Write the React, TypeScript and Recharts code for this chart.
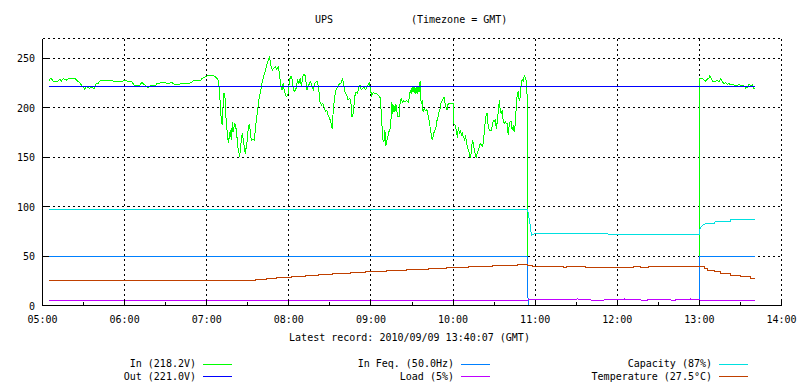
import React from 'react';
import { LineChart, Line, XAxis, YAxis, CartesianGrid } from 'recharts';

const FONT = '"DejaVu Sans Mono", "Liberation Mono", monospace';

// x values are minutes after 05:00 GMT
const HOUR_TICKS = [0, 60, 120, 180, 240, 300, 360, 420, 480, 540];
const HALF_HOUR_TICKS = [0, 30, 60, 90, 120, 150, 180, 210, 240, 270, 300, 330, 360, 390, 420, 450, 480, 510, 540];
const Y_TICKS = [0, 50, 100, 150, 200, 250];

const TITLE = 'UPS';
const SUBTITLE = '(Timezone = GMT)';
const X_LABEL = 'Latest record: 2010/09/09 13:40:07 (GMT)';

const IN_VOLTAGE: Array<[number, number | null]> = [
  [4.9, 227], [5.5, 229], [6.6, 229.3], [7.8, 227], [11.4, 227], [12.7, 229], [13.9, 227], [15.1, 229.5],
  [17.5, 228], [20, 230], [22.4, 229], [23.6, 230], [24.8, 228], [27.3, 225], [28.5, 222.9], [30.9, 218.8],
  [32.2, 221.6], [34.1, 219.6], [35.8, 221], [37.5, 219], [39, 224], [40.7, 224.6], [41.9, 227], [45.6, 227.6],
  [49.2, 227.6], [52.9, 226.6], [55.3, 227], [57.8, 226], [59.5, 228], [61.9, 227], [65.1, 227], [66.8, 222.9],
  [71.2, 222.6], [72.4, 225.6], [74.8, 223], [77.3, 220], [78.5, 222], [82.2, 222], [83.4, 224], [87, 225.6],
  [89.5, 225.6], [91.9, 224], [94.4, 225.6], [96.8, 223], [100.5, 224], [104.1, 225], [106.9, 224], [110.5, 227.4],
  [115.4, 227.4], [116.6, 229.7], [119, 231.4], [121.5, 233], [123.9, 232.8], [126.3, 231.4], [128, 228.7], [128.7, 226.4],
  [129.5, 214.5], [130, 197.6], [130.7, 187.5], [131.4, 182.4], [131.9, 201], [132.6, 214.5], [133.4, 209.5], [133.8, 197.6],
  [134.3, 184], [135.1, 174], [135.8, 164.5], [136.5, 170.6], [137.2, 177.4], [138, 167.2], [138.7, 185.8], [139.2, 175.7],
  [139.9, 180], [140.6, 184], [141.4, 179], [142.1, 170.6], [142.6, 160.5], [143.3, 157], [144, 150.3], [144.8, 160.5],
  [145.5, 170.6], [146.2, 174], [146.7, 167.2], [147.4, 160.5], [148.2, 153.7], [148.9, 160.5], [149.6, 167.2], [150.4, 180.7],
  [151.1, 182.4], [151.8, 177.4], [152.5, 167.2], [153.5, 168], [154.7, 167.2], [155.5, 177.4], [156.2, 187.5], [157.2, 197.6],
  [158.1, 207.8], [159.1, 214.5], [160.3, 224.7], [161.5, 231.4], [162.7, 236.5], [163.5, 241.6], [164.4, 245.6], [165.4, 250],
  [165.9, 252.4], [166.4, 246.6], [167.1, 241.6], [167.9, 238], [168.8, 239.9], [170, 241.6], [171.3, 238.9], [172.2, 241.6],
  [173.2, 234.8], [173.7, 226.4], [174.4, 221.3], [175.1, 217.9], [175.9, 224.7], [176.6, 217.9], [177.6, 212.8], [178.5, 211.1],
  [179.5, 214.5], [180.5, 228], [181.5, 232.1], [182.4, 228.7], [183.4, 217.9], [184.4, 216.2], [185.3, 219.6], [186.3, 228],
  [187.3, 224.7], [188.3, 229.7], [189.2, 221.3], [190.2, 231.4], [191.2, 234.1], [192.1, 232.1], [193.1, 217.9], [194.1, 221.3],
  [195.1, 224.7], [196, 226.4], [197, 221.3], [198, 217.9], [198.9, 224.7], [199.9, 226.4], [200.9, 226.4], [201.9, 217.9],
  [202.8, 206], [203.8, 202.7], [204.8, 204.4], [205.7, 201], [206.7, 196], [207.7, 197.6], [208.7, 192.6], [209.6, 190.2],
  [210.6, 185.8], [211.6, 179], [212.5, 197.6], [213.5, 211.1], [214.5, 217.9], [215.5, 221.3], [216.4, 223], [217.4, 224.7],
  [218.4, 225.3], [219.3, 229.7], [220.3, 221.3], [221.3, 214.5], [222.3, 212.8], [223.2, 207.8], [224.2, 209.5], [225.2, 207.8],
  [226.1, 190.9], [227.1, 194.3], [228.1, 211.1], [229.1, 216.2], [230, 214.5], [231, 219.6], [232, 223], [232.9, 217.9],
  [233.9, 219.6], [234.9, 221.3], [235.9, 218.6], [236.8, 219.6], [237.8, 223], [238.8, 224.7], [239.7, 217.9], [240.5, 212.3],
  [241.7, 215.7], [242.9, 214], [244.1, 214.7], [245.3, 212.3], [246.6, 210.7], [247.3, 200.7], [248, 184], [248.7, 167.3],
  [249.5, 165.7], [250.2, 177.3], [250.9, 161.3], [251.7, 167.3], [252.4, 170.7], [253.1, 175.7], [253.8, 177.3], [254.6, 187.3],
  [255.3, 205.7], [256, 194], [256.8, 202.3], [257.5, 195.7], [258.2, 204], [258.9, 197.3], [259.7, 190.7], [260.6, 190.7],
  [261.4, 207.3], [262.1, 209], [263.1, 205.7], [264, 207.3], [265, 205.7], [266, 207.3], [267.2, 205.7], [267.9, 209],
  [268.7, 217.3], [269.4, 214], [270.1, 220.7], [270.8, 215.7], [271.6, 221.3], [272.3, 214], [273, 220.7], [273.8, 214],
  [274.5, 222.3], [275.2, 215.7], [275.9, 226.7], [276.7, 204], [277.4, 207.3], [278.1, 195.7], [278.9, 199], [279.6, 197.3],
  [280.3, 198], [281, 197.3], [281.8, 192.3], [282.5, 187.3], [283.2, 180.7], [284, 174], [284.7, 167.3], [285.4, 170.7],
  [286.2, 175.7], [286.9, 177.3], [287.6, 180.7], [288.3, 187.3], [289.1, 190.7], [289.8, 195.7], [290.5, 199], [291.3, 205.7],
  [292, 207.3], [292.7, 209], [293.4, 210.7], [294.2, 204], [294.9, 200.7], [295.6, 197.3], [296.4, 204], [300, 204],
  [300.5, 184], [301.5, 182.3], [302.4, 177.3], [303.2, 169], [303.9, 180.7], [304.6, 174], [305.3, 177.3], [306.1, 172.3],
  [306.8, 174], [307.5, 170.7], [308.3, 168], [309, 170.7], [309.7, 167.3], [310.4, 160.7], [311.2, 157.3], [311.9, 154],
  [312.6, 149], [313.4, 155.7], [314.1, 167.3], [314.8, 164], [315.5, 157.3], [316.3, 152.3], [317, 150], [317.7, 154],
  [318.5, 157.3], [319.2, 160.7], [319.9, 164], [320.6, 162.3], [321.4, 161.3], [322.1, 164], [322.8, 175.7], [323.6, 187.3],
  [324.3, 194], [325, 194], [325.7, 180.7], [326.5, 177.3], [327.2, 176.7], [327.9, 177.3], [328.7, 182.3], [329.4, 187.3],
  [330.1, 185.7], [330.8, 187.3], [331.6, 179], [332.3, 185.7], [333, 195.7], [333.8, 207.3], [334.5, 197.3], [335.2, 194],
  [335.9, 197.3], [336.7, 186.3], [337.4, 184.3], [338.1, 186.3], [338.9, 184.3], [339.6, 184], [340.3, 172.3], [341, 182.3],
  [341.8, 186.3], [342.5, 185.7], [343.2, 177.3], [344, 180.7], [344.7, 175.7], [345.4, 182.3], [346.1, 199], [346.9, 214],
  [347.6, 215.7], [348.3, 207.3], [349.1, 210.7], [349.8, 224], [350.5, 229], [351.3, 227.3], [352, 232.3], [352.7, 230.7],
  [353.4, 227.3], [354, 227.3], [354.3, 114], [354.5, 25], [355, null], [479.8, null],
  [480, 25], [480.2, 114], [480.4, 229.7], [481.4, 229], [482.4, 229.7], [483.4, 228], [484.6, 227], [485.8, 229],
  [487, 229.7], [487.7, 232.4], [488.7, 229], [489.5, 227], [490.7, 226.3], [491.9, 227], [493.1, 227.7], [494.3, 226.3],
  [495.6, 229], [496.8, 226.3], [498, 224.6], [499.2, 225.6], [500.4, 223.6], [501.6, 224.3], [502.9, 223], [505.3, 223],
  [507.7, 222.3], [509, 223.6], [510.2, 222.3], [512.6, 222.3], [513.8, 219.6], [515.1, 221], [516.3, 223.6], [517.5, 222.3],
  [518.7, 223], [519.9, 219], [520.9, 219],
];

const OUT_VOLTAGE: Array<[number, number | null]> = [[4.9, 221], [520.9, 221]];

const IN_FREQ: Array<[number, number | null]> = [
  [4.9, 50], [354.6, 50], [354.8, 0], [355, null], [479.8, null], [480, 0], [480.2, 50], [520.9, 50],
];

const LOAD: Array<[number, number | null]> = [
  [4.9, 5], [354.7, 5], [355, 6], [390, 6], [391, 6.7], [392, 6], [400, 6], [401, 5.3], [410, 5.3], [411, 6],
  [424.5, 6], [425, 6.7], [426, 6], [437, 6], [437.5, 5.3], [442, 5.3], [442.5, 6], [459, 6], [459.5, 5.3],
  [462.5, 5.3], [463, 6], [473, 6], [473.5, 6.7], [474.5, 6], [480, 6], [480.2, 5], [520.9, 5],
];

const CAPACITY: Array<[number, number | null]> = [
  [4.9, 97], [354.6, 97], [354.9, 93], [355.8, 86], [356.6, 79], [357.3, 70.5], [358.2, 72], [360.2, 72.6],
  [364.6, 73], [410, 73], [415, 72], [480, 72], [480.2, 76], [481, 79.3], [482.2, 81], [484.6, 82.8],
  [490.7, 83], [491.5, 85], [502.5, 85], [503, 87], [520.9, 87],
];

const TEMPERATURE: Array<[number, number | null]> = [
  [4.9, 25], [156, 26], [163.4, 27], [171.2, 28], [181.7, 29], [191.9, 30], [201.7, 31], [212.2, 32],
  [224.9, 33], [235.8, 34], [251.7, 35], [266.3, 36], [282.2, 37], [295.1, 38], [311.4, 39], [328.5, 40],
  [346.8, 41], [354.5, 40], [358, 39.5], [361, 39], [381, 38.5], [383, 39], [396.8, 38.3], [432.2, 39],
  [437, 38.7], [443, 39], [481, 39], [483.4, 37.2], [485.9, 35.5], [490.7, 33.9], [495.6, 32.2],
  [502.9, 30.2], [510.2, 28.9], [517.5, 27.6], [520.9, 27.5],
];

const COLORS = {
  in: '#00ff00',
  out: '#0000ff',
  feq: '#0080ff',
  load: '#c000ff',
  capacity: '#00e0e0',
  temp: '#c04000',
};

const SERIES = [
  { key: 'in', label: 'In (218.2V)', data: IN_VOLTAGE, color: COLORS.in, step: false },
  { key: 'out', label: 'Out (221.0V)', data: OUT_VOLTAGE, color: COLORS.out, step: false },
  { key: 'feq', label: 'In Feq. (50.0Hz)', data: IN_FREQ, color: COLORS.feq, step: false },
  { key: 'load', label: 'Load (5%)', data: LOAD, color: COLORS.load, step: false },
  { key: 'capacity', label: 'Capacity (87%)', data: CAPACITY, color: COLORS.capacity, step: false },
  { key: 'temp', label: 'Temperature (27.5°C)', data: TEMPERATURE, color: COLORS.temp, step: true },
];

// legend layout: [column text right edge, row]
const LEGEND_LAYOUT = [
  { col: 196, row: 0 },
  { col: 196, row: 1 },
  { col: 454, row: 0 },
  { col: 454, row: 1 },
  { col: 712, row: 0 },
  { col: 712, row: 1 },
];

const toRows = (pairs: Array<[number, number | null]>) => pairs.map(([t, v]) => ({ t, v }));

const fmtTime = (m: number) => {
  const h = 5 + Math.floor(m / 60);
  const mm = m % 60;
  return `${String(h).padStart(2, '0')}:${String(mm).padStart(2, '0')}`;
};

const textProps = { fontFamily: FONT, fontSize: 10, fill: '#000' };

const BottomTick = (props: any) => {
  const { x, y, payload } = props;
  const major = payload.value % 60 === 0;
  return (
    <g>
      <line x1={x} x2={x} y1={y} y2={y - (major ? 6 : 4)} stroke="#000" shapeRendering="crispEdges" />
      {major && (
        <text x={x} y={y + 17.5} textAnchor="middle" {...textProps}>
          {fmtTime(payload.value)}
        </text>
      )}
    </g>
  );
};

const TopTick = (props: any) => {
  const { x, y, payload } = props;
  const major = payload.value % 60 === 0;
  return <line x1={x} x2={x} y1={y} y2={y + (major ? 6 : 4)} stroke="#000" shapeRendering="crispEdges" />;
};

const LeftTick = (props: any) => {
  const { x, y, payload } = props;
  return (
    <g>
      <line x1={x} x2={x + 6} y1={y} y2={y} stroke="#000" shapeRendering="crispEdges" />
      <text x={x - 7.5} y={y + 4} textAnchor="end" {...textProps}>
        {payload.value}
      </text>
    </g>
  );
};

const RightTick = (props: any) => {
  const { x, y } = props;
  return <line x1={x} x2={x - 6} y1={y} y2={y} stroke="#000" shapeRendering="crispEdges" />;
};

const EmptyTick = () => <g />;

export default function App() {
  return (
    <div style={{ position: 'absolute', left: 0, top: 0, width: 800, height: 384, background: '#fff' }}>
      <LineChart
        width={800}
        height={384}
        margin={{ top: 38.5, right: 18.5, bottom: 48.5, left: 0 }}
      >
        <CartesianGrid
          xAxisId="g"
          yAxisId="l"
          stroke="#000"
          strokeDasharray="2 3"
          shapeRendering="crispEdges"
        />
        <XAxis
          xAxisId="b"
          dataKey="t"
          type="number"
          domain={[0, 540]}
          ticks={HALF_HOUR_TICKS}
          interval={0}
          tick={BottomTick}
          tickLine={false}
          tickSize={0}
          tickMargin={0}
          axisLine={{ stroke: '#000', shapeRendering: 'crispEdges' }}
          height={30}
          allowDataOverflow
        />
        <XAxis
          xAxisId="top"
          dataKey="t"
          type="number"
          orientation="top"
          domain={[0, 540]}
          ticks={HALF_HOUR_TICKS}
          interval={0}
          tick={TopTick}
          tickLine={false}
          tickSize={0}
          tickMargin={0}
          axisLine={{ stroke: '#000', shapeRendering: 'crispEdges' }}
          height={0}
          allowDataOverflow
        />
        <XAxis
          xAxisId="g"
          dataKey="t"
          type="number"
          orientation="top"
          domain={[0, 540]}
          ticks={HOUR_TICKS}
          interval={0}
          tick={EmptyTick}
          tickLine={false}
          axisLine={false}
          height={0}
          allowDataOverflow
        />
        <YAxis
          yAxisId="l"
          type="number"
          domain={[0, 270]}
          ticks={Y_TICKS}
          interval={0}
          tick={LeftTick}
          tickLine={false}
          tickSize={0}
          tickMargin={0}
          axisLine={{ stroke: '#000', shapeRendering: 'crispEdges' }}
          width={42.5}
          allowDataOverflow
        />
        <YAxis
          yAxisId="r"
          type="number"
          orientation="right"
          domain={[0, 270]}
          ticks={Y_TICKS}
          interval={0}
          tick={RightTick}
          tickLine={false}
          tickSize={0}
          tickMargin={0}
          axisLine={{ stroke: '#000', shapeRendering: 'crispEdges' }}
          width={0}
          allowDataOverflow
        />
        {SERIES.map((s) => (
          <Line
            key={s.key}
            xAxisId="b"
            yAxisId="l"
            data={toRows(s.data)}
            dataKey="v"
            type={s.step ? 'stepAfter' : 'linear'}
            stroke={s.color}
            strokeWidth={1}
            dot={false}
            activeDot={false}
            connectNulls={false}
            isAnimationActive={false}
            shapeRendering="crispEdges"
          />
        ))}
      </LineChart>
      <svg
        width={800}
        height={384}
        style={{ position: 'absolute', left: 0, top: 0, pointerEvents: 'none' }}
      >
        <text x={315} y={22.5} {...textProps}>{TITLE}</text>
        <text x={411} y={22.5} {...textProps}>{SUBTITLE}</text>
        <text x={409.5} y={341} textAnchor="middle" {...textProps}>{X_LABEL}</text>
        {SERIES.map((s, i) => {
          const pos = LEGEND_LAYOUT[i];
          const yc = 363.5 + pos.row * 12.7;
          return (
            <g key={s.key}>
              <text x={pos.col} y={yc + 3.6} textAnchor="end" {...textProps}>{s.label}</text>
              <line x1={pos.col + 7} x2={pos.col + 36} y1={Math.round(yc) + 0.5} y2={Math.round(yc) + 0.5} stroke={s.color} strokeWidth={1} />
            </g>
          );
        })}
      </svg>
    </div>
  );
}
